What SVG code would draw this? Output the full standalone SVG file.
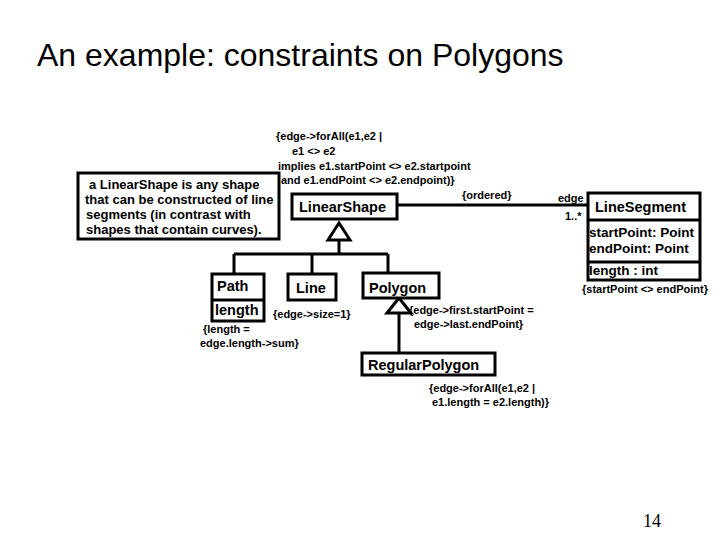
<svg xmlns="http://www.w3.org/2000/svg" width="720" height="540" viewBox="0 0 720 540">
<style>
text{font-family:"Liberation Sans",Arial,sans-serif;fill:#000}
.b{fill:#fff;stroke:#000;stroke-width:3}
.l{stroke:#000;stroke-width:3;fill:none}
.n{font-size:14.5px;font-weight:bold}
.s{font-size:13px;font-weight:bold}
.c{font-size:11px;font-weight:bold}
.a{font-size:13.5px;font-weight:bold}
</style>
<rect width="720" height="540" fill="#fff"/>
<text x="37" y="66" style="font-size:32px">An example: constraints on Polygons</text>
<g id="connectors">
<path class="l" d="M397,205 H587"/>
<path class="l" d="M339,240 V254 M234,254 H388 M234,254 V274 M312,254 V274 M388,254 V273"/>
<polygon class="b" points="339,223 328,240 350,240"/>
<path class="l" d="M399,313 V353"/>
<polygon class="b" points="399,298 387,313 411,313"/>
<text class="c" x="462" y="199">{ordered}</text>
<text class="c" x="558" y="202">edge</text>
<text class="c" x="565" y="220">1..*</text>
</g>
<g id="note">
<rect class="b" x="78" y="173" width="201" height="66"/>
<text class="s" x="89" y="189">a LinearShape is any shape</text>
<text class="s" x="85" y="204">that can be constructed of line</text>
<text class="s" x="86" y="219">segments (in contrast with</text>
<text class="s" x="86" y="234">shapes that contain curves).</text>
</g>
<g id="c1">
<text class="c" x="276" y="140">{edge-&gt;forAll(e1,e2 |</text>
<text class="c" x="292" y="155">e1 &lt;&gt; e2</text>
<text class="c" x="278" y="170">implies e1.startPoint &lt;&gt; e2.startpoint</text>
<text class="c" x="281" y="184">and e1.endPoint &lt;&gt; e2.endpoint)}</text>
</g>
<g id="LinearShape">
<rect class="b" x="292" y="194" width="105" height="25"/>
<text class="n" x="299" y="212">LinearShape</text>
</g>
<g id="LineSegment">
<rect class="b" x="588" y="193" width="112" height="87"/>
<path class="l" d="M588,220 H700 M588,262 H700"/>
<text class="n" x="595" y="212">LineSegment</text>
<text class="a" x="589" y="237">startPoint: Point</text>
<text class="a" x="589" y="253">endPoint: Point</text>
<text class="a" x="589" y="275">length : int</text>
<text class="c" x="582" y="293">{startPoint &lt;&gt; endPoint}</text>
</g>
<g id="Path">
<rect class="b" x="212" y="274" width="52" height="47"/>
<path class="l" d="M212,300 H264"/>
<text class="n" x="217" y="291">Path</text>
<text class="n" x="215" y="315">length</text>
<text class="c" x="203" y="333">{length =</text>
<text class="c" x="200" y="347">edge.length-&gt;sum}</text>
</g>
<g id="Line">
<rect class="b" x="288" y="274" width="48" height="26"/>
<text class="n" x="296" y="293">Line</text>
<text class="c" x="273" y="318">{edge-&gt;size=1}</text>
</g>
<g id="Polygon">
<rect class="b" x="363" y="273" width="76" height="25"/>
<text class="n" x="369" y="293">Polygon</text>
<text class="c" x="409" y="314">{edge-&gt;first.startPoint =</text>
<text class="c" x="414" y="328">edge-&gt;last.endPoint}</text>
</g>
<g id="RegularPolygon">
<rect class="b" x="362" y="353" width="133" height="22"/>
<text class="n" x="368" y="370">RegularPolygon</text>
<text class="c" x="429" y="392">{edge-&gt;forAll(e1,e2 |</text>
<text class="c" x="432" y="406">e1.length = e2.length)}</text>
</g>
<text x="643" y="527" style="font-family:'Liberation Serif',serif;font-size:18px">14</text>
</svg>
